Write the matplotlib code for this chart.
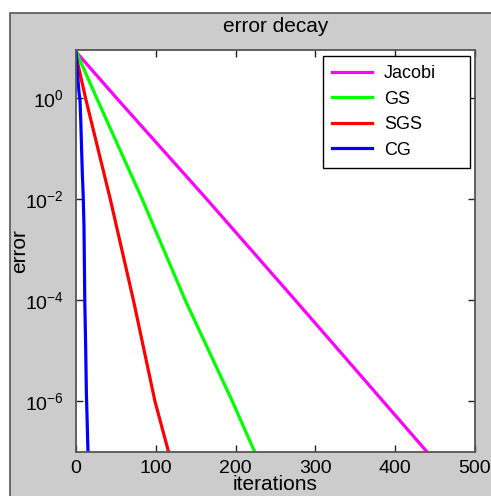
"""
Error decay of the iterative solvers (Jacobi, GS, SGS, CG) on a log scale.
"""

import matplotlib
matplotlib.use("Agg")
import matplotlib.pyplot as plt
from matplotlib.patches import Rectangle

# values
jacobi_iters = [0, 51, 164, 275, 385, 440, 460]
jacobi_error = [8.3, 1.0, 1e-2, 1e-4, 1e-6, 1e-7, 4.5e-8]

gs_iters = [0, 26, 83, 137, 196, 224, 235]
gs_error = [8.5, 1.0, 1e-2, 1e-4, 1e-6, 1e-7, 4e-8]

sgs_iters = [0, 12, 43, 72, 99, 116, 122]
sgs_error = [7.0, 1.0, 1e-2, 1e-4, 1e-6, 1e-7, 4e-8]

cg_iters = [0, 1, 2, 3, 4, 5, 6, 7, 8, 9, 10, 11, 12, 13, 14, 15, 16]
cg_error = [8.5, 5.0, 3.0, 1.8, 1.2, 0.9, 0.35, 0.1, 0.03, 0.012, 3e-3,
            1e-4, 1.5e-5, 1.5e-6, 4e-7, 1e-7, 3e-8]

x_ticks = [0, 100, 200, 300, 400, 500]
y_ticks = [1e0, 1e-2, 1e-4, 1e-6]

plt.rcParams["font.family"] = ["Liberation Sans", "DejaVu Sans"]

figure = plt.figure(figsize=(4.91, 4.96), dpi=100)
figure.patch.set_facecolor("white")
# matlab-style grey figure panel, its lower right part is cut off
figure.patches.append(Rectangle((10 / 491, -0.1), 1.2, 1 - 13 / 496 + 0.1,
                                transform=figure.transFigure,
                                facecolor="#cccccc", edgecolor="#555555",
                                linewidth=1.2, zorder=-10))

axes = figure.add_axes([76 / 491, 1 - 452 / 496, 399 / 491, 402 / 496])
axes.set_facecolor("white")

axes.plot(jacobi_iters, jacobi_error, color="#ff00ff", lw=2.3, label="Jacobi")
axes.plot(gs_iters, gs_error, color="#00ff00", lw=2.3, label="GS")
axes.plot(sgs_iters, sgs_error, color="#ff0000", lw=2.3, label="SGS")
axes.plot(cg_iters, cg_error, color="#0000ff", lw=2.3, label="CG")

axes.set_yscale("log")
axes.set_xlim(0, 500)
axes.set_ylim(1e-7, 9)
axes.set_xticks(x_ticks)
axes.set_yticks(y_ticks)
axes.minorticks_off()
axes.tick_params(direction="in", top=True, right=True, length=5,
                 width=1, color="#222222", labelsize=14)
axes.tick_params(axis="x", pad=6)
axes.tick_params(axis="y", pad=9)
for spine in axes.spines.values():
  spine.set_color("#555555")
  spine.set_linewidth(1.3)

axes.set_title("error decay", fontsize=15, pad=13)
axes.set_xlabel("iterations", fontsize=15, labelpad=-2)
axes.set_ylabel("error", fontsize=15)
axes.yaxis.set_label_coords(-0.118, 0.5)

legend = axes.legend(loc="upper left", bbox_to_anchor=(0.619, 0.5, 0.368, 0.485),
                     mode="expand", fontsize=13, fancybox=False,
                     framealpha=1, edgecolor="black", handlelength=2.2,
                     borderpad=0.5, labelspacing=0.47, handletextpad=0.67,
                     borderaxespad=0)
legend.get_frame().set_linewidth(1.0)

figure.savefig("out.png", dpi=100)
plt.close()
